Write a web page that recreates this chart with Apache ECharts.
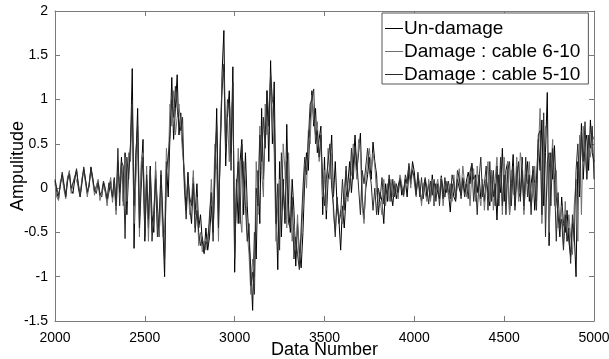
<!DOCTYPE html>
<html>
<head>
<meta charset="utf-8">
<script src="https://cdn.jsdelivr.net/npm/echarts@6/dist/echarts.min.js"></script>
<style>
  html, body { margin: 0; padding: 0; background: #fff; }
  #chart { width: 609px; height: 359px; }
</style>
</head>
<body>
<div id="chart"></div>
<script>
// sample numbers: first sample and spacing between the read-off points
const startSample = 2000;
const sampleStep = 10;

const xTicks = [2000, 2500, 3000, 3500, 4000, 4500, 5000];
const yTicks = [-1.5, -1, -0.5, 0, 0.5, 1, 1.5, 2];

const seriesNames = ["Un-damage", "Damage : cable 6-10", "Damage : cable 5-10"];

// one row = 100 samples
const undamaged = [
  0.08, -0.05, -0.12, 0.05, 0.15, 0.02, -0.08, 0.12, 0.18, -0.02,
  -0.06, 0.10, 0.20, 0.05, -0.08, 0.08, 0.22, 0.10, -0.06, 0.02,
  0.24, 0.12, -0.04, -0.02, 0.08, -0.06, -0.10, 0.06, 0.04, -0.15,
  -0.05, 0.08, -0.12, 0.10, -0.25, 0.30, -0.05, 0.35, -0.15, 0.40,
  -0.30, 0.20, 0.45, 1.35, -0.68, 0.30, 0.90, -0.35, 0.20, 0.55,
  -0.60, 0.10, -0.45, 0.25, -0.30, -0.50, 0.20, -0.20, -0.55, 0.15,
  -0.40, -1.00, 0.30, -0.10, 0.60, 1.25, 0.55, 0.90, 1.28, 0.60,
  0.85, 0.50, 0.10, -0.25, 0.18, -0.20, -0.40, 0.12, -0.30, 0.05,
  -0.45, -0.30, -0.60, -0.74, -0.45, -0.70, -0.55, -0.20, -0.50, 0.10,
  0.90, -0.30, 0.40, 1.30, 1.78, 0.25, 0.80, 1.10, 0.40, 1.37,
  -0.95, 0.10, -0.40, 0.30, 0.55, -0.30, 0.40, -0.20, -0.60, -0.90,
  -1.38, -0.50, -0.80, 0.20, -0.40, 0.90, 0.10, 0.60, 1.10, 0.30,
  1.44, 0.50, 1.20, -0.20, -0.92, 0.30, -0.55, 0.10, -0.40, 0.72,
  -0.20, -0.50, 0.10, -0.25, -0.88, -0.40, -0.70, -0.90, -0.50, 0.10,
  0.40, 0.20, 0.75, 1.10, 0.70, 0.90, 0.40, 0.55, 0.70, -0.30,
  0.35, -0.35, 0.10, 0.25, 0.60, -0.10, 0.30, -0.20, -0.35, -0.70,
  -0.20, -0.45, -0.10, 0.05, 0.30, -0.05, 0.25, 0.60, 0.20, 0.40,
  0.62, -0.10, -0.35, 0.00, 0.15, 0.35, 0.10, 0.52, 0.30, 0.15,
  -0.30, -0.05, -0.15, -0.40, 0.05, -0.15, 0.10, -0.05, -0.20, 0.05,
  -0.12, 0.02, 0.12, -0.08, -0.02, 0.10, -0.10, 0.20, 0.05, 0.30,
  0.18, -0.05, 0.10, 0.12, -0.15, 0.02, 0.10, -0.10, 0.05, -0.12,
  0.15, -0.20, 0.05, -0.05, -0.12, 0.14, -0.02, -0.10, 0.08, -0.05,
  -0.27, 0.05, -0.10, -0.15, 0.10, 0.00, -0.08, 0.12, -0.05, 0.08,
  0.18, 0.05, 0.28, 0.10, 0.15, -0.05, 0.15, -0.12, 0.05, -0.15,
  0.10, -0.05, -0.20, 0.20, -0.10, 0.05, -0.36, 0.15, -0.05, 0.45,
  -0.15, 0.20, 0.30, -0.30, 0.05, 0.38, -0.20, 0.25, -0.05, -0.10,
  0.35, -0.25, 0.10, 0.30, -0.15, 0.05, 0.20, -0.25, 0.10, 0.55,
  0.20, 0.77, -0.20, 0.40, 1.08, -0.65, 0.40, 0.10, 0.48, -0.10,
  -0.30, -0.55, -0.10, -0.40, -0.50, -0.25, -0.60, -0.77, -0.40, -0.50,
  -1.00, 0.30, -0.10, 0.73, 0.10, 0.50, 0.60, 0.20, 0.77, 0.40,
  0.30
];

const damage610 = [
  0.05, -0.10, -0.14, 0.08, 0.12, -0.02, -0.12, 0.10, 0.20, -0.06,
  -0.08, 0.14, 0.16, 0.02, -0.10, 0.12, 0.18, 0.06, -0.10, 0.06,
  0.20, 0.08, -0.08, 0.02, 0.10, -0.14, -0.06, 0.02, -0.02, -0.20,
  0.02, 0.12, -0.16, 0.06, -0.30, 0.20, 0.05, 0.25, -0.20, 0.35,
  -0.15, 0.40, 0.30, 0.95, -0.40, 0.10, 0.55, -0.55, 0.30, 0.40,
  -0.45, 0.25, -0.60, 0.10, -0.50, -0.35, 0.30, -0.40, -0.55, 0.00,
  -0.55, -0.50, 0.45, 0.20, 0.95, 0.70, 1.10, 0.60, 0.80, 0.95,
  0.70, 0.40, 0.20, -0.10, 0.05, -0.30, -0.15, 0.20, -0.45, -0.10,
  -0.65, -0.50, -0.72, -0.60, -0.70, -0.55, -0.40, 0.10, -0.30, 0.50,
  0.20, -0.60, 0.60, 1.20, 1.30, 0.50, 0.80, 0.30, 0.90, 1.00,
  -0.60, -0.20, 0.45, -0.30, -0.50, 0.30, 0.10, -0.50, -0.75, -1.20,
  -0.80, -1.00, 0.30, -0.30, 0.70, 0.20, -0.10, 0.95, 0.60, 0.90,
  1.25, 0.80, 0.40, -0.60, -0.20, 0.10, -0.30, 0.50, 0.20, -0.45,
  0.40, -0.20, -0.60, -0.40, -0.70, -0.30, -0.88, -0.60, -0.20, 0.25,
  0.00, 0.65, 0.50, 1.05, 0.80, 0.60, 0.75, 0.30, 0.50, -0.10,
  0.20, -0.25, 0.45, 0.10, 0.40, -0.30, -0.50, -0.10, -0.35, -0.25,
  -0.40, 0.00, 0.20, -0.15, 0.10, 0.15, 0.50, 0.35, 0.10, 0.55,
  0.45, -0.20, -0.40, 0.10, 0.30, 0.45, 0.20, 0.40, 0.25, -0.05,
  -0.20, -0.15, -0.30, 0.10, -0.20, 0.05, -0.15, 0.10, -0.10, 0.08,
  -0.02, -0.12, 0.15, 0.05, -0.10, 0.02, 0.12, 0.25, 0.00, 0.22,
  0.20, -0.10, 0.15, 0.05, -0.20, 0.05, -0.05, -0.15, 0.10, -0.15,
  0.10, -0.20, 0.00, 0.10, -0.05, 0.12, -0.20, 0.02, 0.08, -0.10,
  0.05, -0.15, 0.15, -0.10, 0.02, 0.22, -0.05, 0.25, 0.05, -0.10,
  0.12, -0.20, 0.15, 0.22, -0.15, 0.25, -0.05, -0.20, 0.10, -0.25,
  0.05, 0.30, -0.15, 0.20, -0.25, 0.10, 0.35, -0.20, 0.25, -0.30,
  0.35, -0.15, 0.30, -0.30, 0.20, -0.05, -0.10, 0.35, -0.15, 0.40,
  0.25, -0.30, 0.15, 0.05, 0.30, -0.20, -0.05, 0.25, -0.15, 0.40,
  0.90, -0.40, 0.25, 0.70, 0.55, -0.50, 0.20, 0.55, -0.20, 0.20,
  -0.45, -0.40, -0.20, -0.65, -0.15, -0.60, -0.30, -0.55, -0.75, -0.20,
  0.10, -0.60, 0.60, -0.30, 0.70, 0.40, 0.10, 0.55, 0.35, 0.60,
  0.55
];

const damage510 = [
  0.10, 0.00, -0.08, 0.03, 0.18, 0.05, -0.10, 0.08, 0.16, 0.00,
  -0.02, 0.12, 0.22, 0.00, -0.10, 0.05, 0.24, 0.08, -0.04, 0.04,
  0.22, 0.10, -0.02, -0.06, 0.06, -0.08, -0.04, 0.08, 0.00, -0.12,
  0.06, 0.00, -0.10, 0.12, -0.20, 0.45, -0.20, 0.30, 0.25, -0.57,
  0.35, 0.10, 0.50, 1.00, -0.20, 0.40, 0.70, -0.45, 0.00, 0.35,
  -0.55, 0.15, -0.35, 0.20, -0.60, -0.25, 0.10, -0.55, -0.30, 0.20,
  -0.30, -0.80, 0.20, 0.35, 0.60, 1.00, 0.80, 1.15, 0.90, 0.75,
  0.65, 0.80, 0.00, -0.35, 0.10, -0.10, -0.20, 0.05, -0.50, -0.25,
  -0.50, -0.65, -0.55, -0.72, -0.60, -0.65, -0.30, -0.05, -0.60, 0.30,
  0.70, -0.45, 0.50, 1.10, 1.40, 0.40, 1.00, 0.90, 0.20, 1.20,
  -0.80, 0.00, 0.30, -0.40, 0.50, 0.10, -0.20, -0.60, -0.40, -1.10,
  -0.95, -1.20, 0.00, -0.20, 0.60, 0.30, 0.80, 0.45, 1.10, 0.70,
  1.30, 1.00, 0.90, -0.40, 0.05, -0.70, 0.40, 0.00, -0.35, 0.30,
  -0.40, -0.45, -0.10, -0.80, -0.55, -0.75, -0.92, -0.45, 0.00, 0.35,
  0.15, 0.55, 0.95, 1.00, 1.12, 0.50, 0.65, 0.35, 0.60, 0.10,
  -0.20, 0.10, 0.30, 0.50, 0.00, -0.20, -0.55, -0.10, -0.40, -0.30,
  0.10, -0.25, 0.25, -0.10, 0.00, 0.45, 0.10, 0.45, 0.30, 0.00,
  -0.30, 0.20, 0.05, 0.25, 0.45, 0.20, 0.05, -0.25, 0.00, -0.30,
  0.00, -0.12, 0.12, -0.18, 0.00, -0.08, 0.15, -0.15, 0.10, -0.10,
  0.05, -0.05, 0.10, 0.00, -0.08, 0.15, 0.05, 0.28, 0.10, 0.20,
  0.12, -0.08, 0.18, -0.10, 0.12, -0.12, 0.12, 0.00, -0.18, 0.08,
  -0.08, 0.10, -0.15, 0.05, -0.20, 0.10, -0.12, 0.12, -0.05, 0.08,
  -0.12, 0.15, 0.05, -0.12, 0.20, 0.12, -0.12, 0.10, -0.10, 0.05,
  -0.12, 0.18, 0.28, -0.15, 0.10, -0.30, 0.10, 0.35, -0.10, 0.05,
  0.25, -0.25, 0.30, -0.15, 0.20, -0.20, 0.25, -0.20, 0.35, -0.20,
  0.15, -0.30, 0.20, 0.30, -0.20, 0.25, -0.25, 0.10, 0.30, -0.15,
  0.20, -0.20, 0.35, -0.10, 0.15, -0.30, 0.25, 0.05, -0.25, 0.60,
  0.65, -0.30, 0.85, -0.55, 0.30, 0.40, -0.20, 0.45, 0.10, -0.60,
  -0.05, -0.45, -0.35, -0.70, -0.30, -0.60, -0.45, -0.85, -0.30, -0.60,
  0.20, 0.50, 0.00, 0.65, 0.30, 0.75, 0.10, 0.60, 0.45, 0.70,
  0.10
];

const lineColors = ["#000000", "#707070", "#2b2b2b"];
const fontFamily = "Liberation Sans, Arial, Helvetica, sans-serif";
const boxColor = "#7a7a7a";

function toPoints(values) {
  return values.map((v, i) => [startSample + i * sampleStep, v]);
}

const chart = echarts.init(document.getElementById("chart"), null, { renderer: "canvas" });

const frameAxis = {
  axisLine: { show: true, onZero: false, lineStyle: { color: boxColor, width: 1 } },
  axisTick: { show: true, inside: true, length: 5, lineStyle: { color: boxColor } },
  splitLine: { show: false },
};

chart.setOption({
  animation: false,
  backgroundColor: "#ffffff",
  color: lineColors,
  textStyle: { fontFamily },
  grid: { left: 55, right: 15, top: 11, bottom: 38, containLabel: false, outerBoundsMode: "none" },
  legend: {
    data: seriesNames,
    orient: "vertical",
    left: 382,
    top: 13,
    padding: [6, 8, 0, 3],
    itemGap: 4,
    itemWidth: 18,
    itemHeight: 1,
    icon: "rect",
    borderColor: "#555555",
    borderWidth: 1,
    backgroundColor: "#ffffff",
    textStyle: { color: "#000000", fontSize: 19, lineHeight: 19, fontFamily, padding: [0, 0, 0, -4] },
  },
  xAxis: [
    {
      ...frameAxis,
      type: "value",
      min: xTicks[0],
      max: xTicks[xTicks.length - 1],
      interval: 500,
      position: "bottom",
      name: "Data Number",
      nameLocation: "middle",
      nameGap: 20,
      nameMoveOverlap: false,
      nameTextStyle: { color: "#000000", fontSize: 18, fontFamily, verticalAlign: "top" },
      axisLabel: {
        color: "#000000", fontSize: 14, margin: 10, fontFamily,
        showMinLabel: true, showMaxLabel: true,
        formatter: (v) => String(v),
      },
    },
    {
      ...frameAxis,
      type: "value",
      min: xTicks[0],
      max: xTicks[xTicks.length - 1],
      interval: 500,
      position: "top",
      axisLabel: { show: false },
    },
  ],
  yAxis: [
    {
      ...frameAxis,
      type: "value",
      min: yTicks[0],
      max: yTicks[yTicks.length - 1],
      interval: 0.5,
      position: "left",
      name: "Ampulitude",
      nameLocation: "middle",
      nameGap: 28,
      nameMoveOverlap: false,
      nameRotate: 90,
      nameTextStyle: { color: "#000000", fontSize: 18, fontFamily },
      axisLabel: { color: "#000000", fontSize: 14, margin: 7, fontFamily, showMinLabel: true, formatter: (v) => String(v) },
    },
    {
      ...frameAxis,
      type: "value",
      min: yTicks[0],
      max: yTicks[yTicks.length - 1],
      interval: 0.5,
      position: "right",
      axisLabel: { show: false },
    },
  ],
  series: [undamaged, damage610, damage510].map((values, idx) => ({
    name: seriesNames[idx],
    type: "line",
    data: toPoints(values),
    symbol: "none",
    lineStyle: { width: 1, color: lineColors[idx] },
    itemStyle: { color: lineColors[idx] },
    z: 2 + idx,
  })),
});
</script>
</body>
</html>
